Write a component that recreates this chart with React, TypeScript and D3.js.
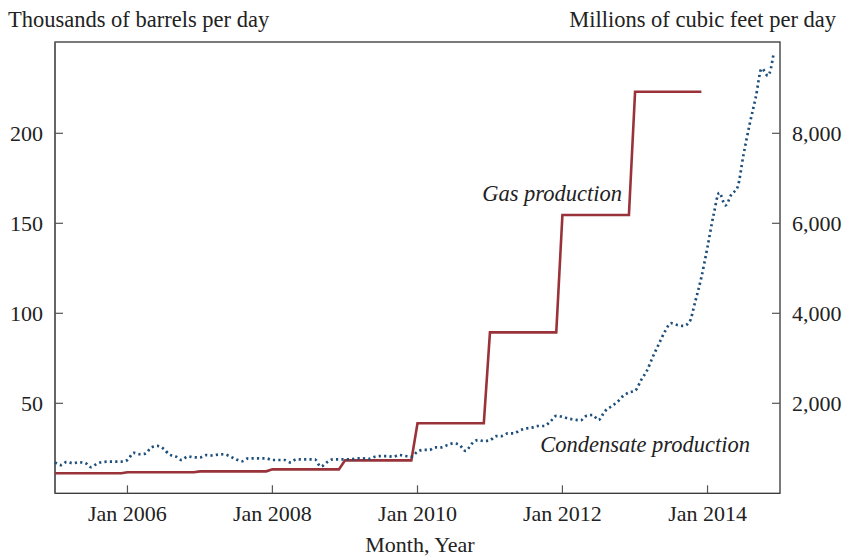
import React from "react";
import * as d3 from "d3";

const W = 844;
const H = 557;

// Condensate production, thousands of barrels per day, monthly Jan 2005 – Dec 2014
const condensateStart = [2005, 0];
const condensateValues = [
  17.2, 15.7, 17.5, 16.7, 17.2, 16.9, 14.5, 16.5, 17.4, 17.6, 17.6, 17.6,
  18.5, 22.5, 21.7, 22.0, 25.5, 26.3, 24.8, 21.5, 20.5, 18.5, 20.5, 20.0,
  19.9, 21.2, 21.0, 21.5, 21.7, 20.5, 18.9, 17.8, 19.4, 19.4, 19.4, 19.4,
  18.5, 18.5, 18.5, 17.2, 18.9, 18.9, 18.9, 18.9, 14.8, 17.2, 18.9, 18.9,
  18.9, 18.9, 19.4, 19.4, 19.1, 20.3, 20.7, 20.7, 20.3, 21.3, 20.7, 20.3,
  23.1, 24.1, 24.1, 25.5, 25.5, 26.8, 27.8, 26.8, 23.5, 27.5, 29.6, 29.0,
  29.5, 31.8, 31.8, 33.3, 33.3, 35.0, 36.0, 36.5, 37.4, 37.4, 39.8, 43.0,
  42.5, 41.5, 41.0, 40.5, 43.0, 43.5, 40.7, 45.5, 48.1, 50.5, 54.0, 56.0,
  57.0, 63.0, 68.0, 76.0, 83.0, 90.0, 94.5, 93.5, 93.0, 95.0, 107, 120,
  137, 155, 167, 160, 166, 170, 188, 205, 220, 236, 232, 245,
];

// Gas production, millions of cubic feet per day, annual levels
const gasYears = [2005, 2006, 2007, 2008, 2009, 2010, 2011, 2012, 2013];
const gasValues = [444, 468, 488, 532, 732, 1556, 3576, 6184, 8924];

const leftTicks = [50, 100, 150, 200];
const rightTicks = [2000, 4000, 6000, 8000];
const xTickYears = [2006, 2008, 2010, 2012, 2014];

const FONT = "'Liberation Serif', 'Times New Roman', serif";
const RED = "#993339";
const BLUE = "#1d4f7c";
const TEXT = "#222";
const FS = 22;

export default function App() {
  const m = { left: 55, right: 780, top: 42, bottom: 493.3 };

  const x = d3
    .scaleTime()
    .domain([new Date(2005, 0, 1), new Date(2015, 0, 1)])
    .range([m.left, m.right]);
  const yL = d3.scaleLinear().domain([0, 250]).range([m.bottom, m.bottom - 250 * 1.8]);
  const yR = d3.scaleLinear().domain([0, 10000]).range([m.bottom, m.bottom - 250 * 1.8]);

  const condPts = condensateValues.map((v, i) => ({
    d: new Date(condensateStart[0], condensateStart[1] + i, 1),
    v,
  }));
  const gasPts: { d: Date; v: number }[] = [];
  gasYears.forEach((yr, i) => {
    gasPts.push({ d: new Date(yr, 0, 1), v: gasValues[i] });
    gasPts.push({ d: new Date(yr, 11, 1), v: gasValues[i] });
  });

  const condLine = d3
    .line<{ d: Date; v: number }>()
    .x((p) => x(p.d))
    .y((p) => yL(p.v))
    .curve(d3.curveMonotoneX);
  const gasLine = d3
    .line<{ d: Date; v: number }>()
    .x((p) => x(p.d))
    .y((p) => yR(p.v));

  const tickLen = 8;

  return (
    <svg
      width={W}
      height={H}
      style={{ position: "absolute", left: 0, top: 0, background: "#fff" }}
      fontFamily={FONT}
    >
      <rect x={0} y={0} width={W} height={H} fill="#fff" />
      {/* axis titles */}
      <text x={8} y={27} fontSize={22.5} fill={TEXT}>
        Thousands of barrels per day
      </text>
      <text x={836} y={27} fontSize={22.5} fill={TEXT} textAnchor="end">
        Millions of cubic feet per day
      </text>

      {/* frame */}
      <rect
        x={m.left}
        y={m.top}
        width={m.right - m.left}
        height={m.bottom - m.top}
        fill="none"
        stroke="#333"
        strokeWidth={1.3}
      />
      <line x1={m.left} x2={m.left} y1={m.top} y2={m.bottom} stroke="#666" strokeWidth={2} />

      {/* left ticks */}
      {leftTicks.map((t) => (
        <g key={"l" + t}>
          <line x1={m.left} x2={m.left + tickLen} y1={yL(t)} y2={yL(t)} stroke="#555" strokeWidth={1.2} />
          <text x={43} y={yL(t) + 7.5} fontSize={FS} fill={TEXT} textAnchor="end">
            {t}
          </text>
        </g>
      ))}
      {/* right ticks */}
      {rightTicks.map((t) => (
        <g key={"r" + t}>
          <line x1={m.right - tickLen} x2={m.right} y1={yR(t)} y2={yR(t)} stroke="#555" strokeWidth={1.2} />
          <text x={792} y={yR(t) + 7.5} fontSize={FS} fill={TEXT}>
            {d3.format(",")(t)}
          </text>
        </g>
      ))}
      {/* bottom ticks */}
      {xTickYears.map((yr) => {
        const px = x(new Date(yr, 0, 1));
        return (
          <g key={"x" + yr}>
            <line x1={px} x2={px} y1={m.bottom} y2={m.bottom - tickLen} stroke="#555" strokeWidth={1.2} />
            <text x={px} y={521} fontSize={FS} fill={TEXT} textAnchor="middle">
              Jan {yr}
            </text>
          </g>
        );
      })}
      <text x={420} y={552} fontSize={FS} fill={TEXT} textAnchor="middle">
        Month, Year
      </text>

      {/* series */}
      <path d={gasLine(gasPts) || ""} fill="none" stroke={RED} strokeWidth={2.6} />
      <path
        d={condLine(condPts) || ""}
        fill="none"
        stroke={BLUE}
        strokeWidth={2.7}
        strokeDasharray="2.2 3.2"
      />

      {/* labels */}
      <text x={622} y={201} fontSize={22.5} fontStyle="italic" fill={TEXT} textAnchor="end">
        Gas production
      </text>
      <text x={750} y={452} fontSize={22.5} fontStyle="italic" fill={TEXT} textAnchor="end">
        Condensate production
      </text>
    </svg>
  );
}
